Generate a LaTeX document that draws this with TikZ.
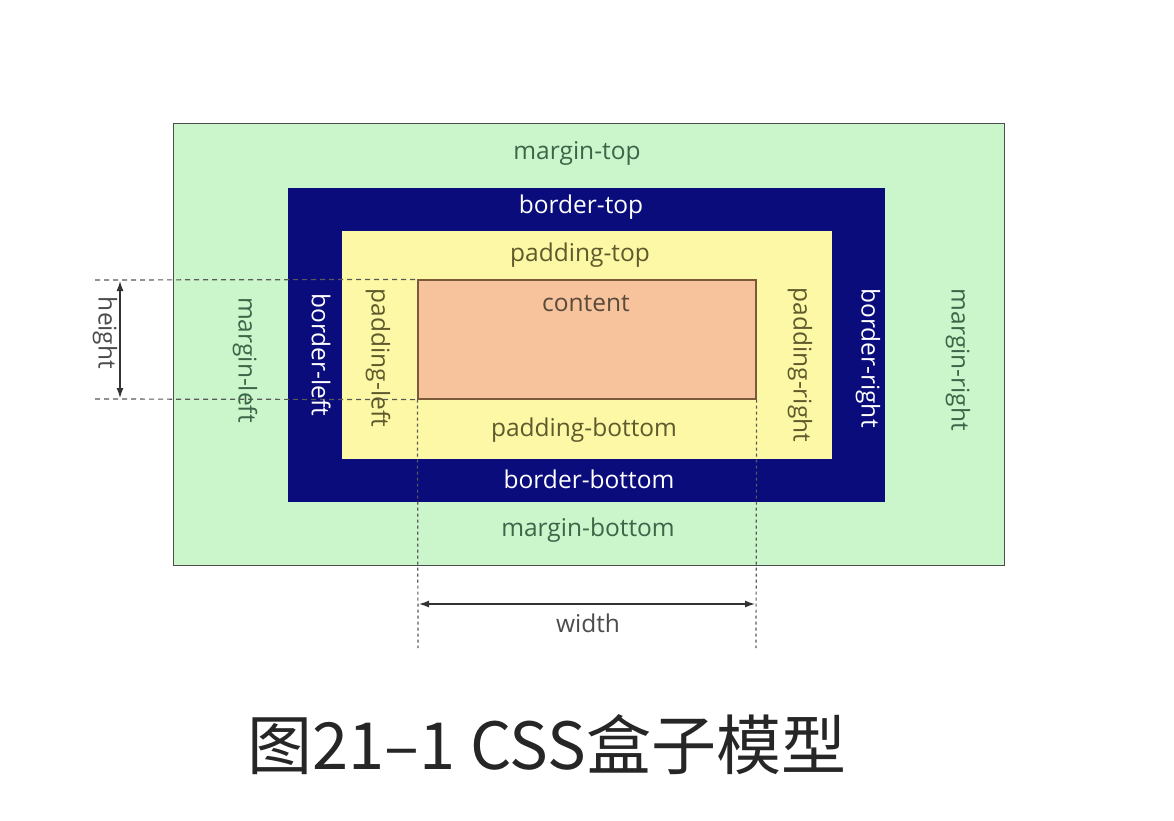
\documentclass[tikz,border=0pt]{standalone}
\usepackage{fontspec}
\setmainfont{Open Sans}
\newfontfamily\cjk{Noto Sans CJK SC}
\usetikzlibrary{arrows.meta}
\definecolor{mgreen}{HTML}{CBF5CB}
\definecolor{mtext}{HTML}{3B6648}
\definecolor{navy}{HTML}{0A0C7C}
\definecolor{pyellow}{HTML}{FCF8A6}
\definecolor{ptext}{HTML}{5E5A2C}
\definecolor{csalmon}{HTML}{F7C39C}
\definecolor{cborder}{HTML}{7A5A3A}
\definecolor{ctext}{HTML}{5A4A3A}
\begin{document}
\begin{tikzpicture}[x=1pt,y=-1pt,
  lbl/.style={font=\fontsize{24.5}{26}\selectfont, inner sep=0pt},
  mlbl/.style={lbl, text=mtext},
  blbl/.style={lbl, text=white},
  plbl/.style={lbl, text=ptext},
  guide/.style={dash pattern=on 5pt off 4pt, draw=black!65, line width=1.2pt},
  vguide/.style={dash pattern=on 3pt off 3pt, draw=black!65, line width=1.2pt},
  dim/.style={{Latex[length=10pt,width=7pt]}-{Latex[length=10pt,width=7pt]}, line width=1.3pt, draw=black!80}]
\useasboundingbox (0,0) rectangle (1174,820);
\fill[white] (0,0) rectangle (1174,820);
% boxes
\node[draw=black!70, line width=0.9pt, fill=mgreen, minimum width=831pt, minimum height=442pt, inner sep=0pt] (margin) at (588.5,344) {};
\node[fill=navy, minimum width=597pt, minimum height=314pt, inner sep=0pt] (border) at (586.5,345) {};
\node[fill=pyellow, minimum width=490pt, minimum height=228pt, inner sep=0pt] (padding) at (587,345) {};
\node[draw=cborder, line width=1.2pt, fill=csalmon, minimum width=338pt, minimum height=119pt, inner sep=0pt] (content) at (587,339.5) {};
% guide coordinates
\coordinate (hl1) at (95,280);
\coordinate (hl2) at (95,399);
\coordinate (vb1) at (418,648);
\coordinate (vb2) at (756,648);
\draw[guide] (hl1) -- (content.north west);
\draw[guide] (hl2) -- (content.south west);
\draw[vguide] (content.south west) -- (vb1);
\draw[vguide] (content.south east) -- (vb2);
% dimension arrows
\coordinate (ha) at (120,281);
\coordinate (hb) at (120,398);
\coordinate (wa) at (419,604);
\coordinate (wb) at (755,604);
\draw[dim] (ha) -- (hb);
\draw[dim] (wa) -- (wb);
\node[lbl, text=black!70, rotate=-90] (height) at (105,333) {height};
\node[lbl, text=black!70] (width) at (588,623) {width};
% labels
\node[mlbl] (mt) at (577,153) {margin-top};
\node[blbl] (bt) at (581,207) {border-top};
\node[plbl] (pt) at (580,255) {padding-top};
\node[lbl, text=ctext] (ct) at (586,304) {content};
\node[plbl] (pb) at (584,430) {padding-bottom};
\node[blbl] (bb) at (589,479) {border-bottom};
\node[mlbl] (mb) at (588,530) {margin-bottom};
\node[mlbl, rotate=-90] (ml) at (245,360) {margin-left};
\node[blbl, rotate=-90] (bl) at (321,355) {border-left};
\node[plbl, rotate=-90] (pl) at (378,358) {padding-left};
\node[plbl, rotate=-90] (pr) at (800,365) {padding-right};
\node[blbl, rotate=-90] (br) at (868,358) {border-right};
\node[mlbl, rotate=-90] (mr) at (958,360) {margin-right};
% caption
\node[inner sep=0pt, font=\cjk\fontsize{65}{70}\selectfont, text=black!85] (cap) at (547,745) {图21–1 CSS盒子模型};
\end{tikzpicture}
\end{document}
